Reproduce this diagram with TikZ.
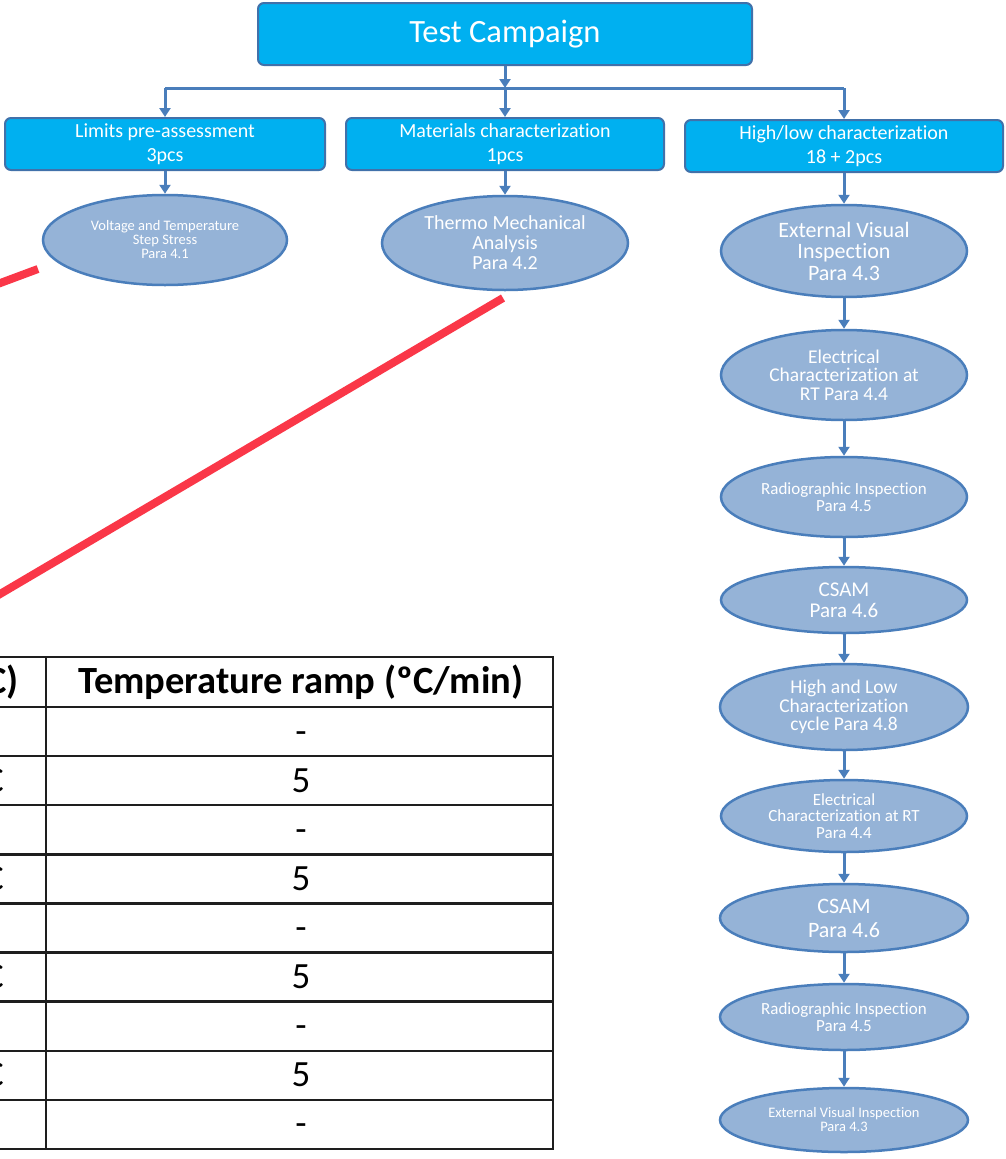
\documentclass[tikz,border=0pt]{standalone}
\usepackage{fontspec}
\setmainfont{Carlito}[Ligatures=NoCommon]
\usetikzlibrary{shapes.geometric,arrows.meta}
\definecolor{cyanbox}{RGB}{0,176,240}
\definecolor{boxline}{RGB}{65,113,170}
\definecolor{ellfill}{RGB}{149,179,215}
\definecolor{ellline}{RGB}{74,126,187}
\definecolor{arrowc}{RGB}{74,126,187}
\definecolor{redline}{RGB}{250,55,72}
\definecolor{tabline}{RGB}{30,30,30}
\tikzset{
 cbox/.style={draw=boxline, line width=2pt, fill=cyanbox, rounded corners=6pt, text=white, align=center, inner sep=0pt},
 oval/.style={ellipse, draw=ellline, line width=2.5pt, fill=ellfill, text=white, align=center, inner sep=0pt},
 flow/.style={draw=arrowc, line width=3pt, -{Triangle[width=11pt,length=9pt]}},
 flowline/.style={draw=arrowc, line width=3pt},
 redstroke/.style={draw=redline, line width=8pt},
 tab/.style={draw=tabline, line width=2.5pt},
 cell/.style={font=\fontsize{37}{44}\selectfont, text=black, inner sep=0pt, anchor=base},
 hcell/.style={font=\bfseries\fontsize{38.5}{44}\selectfont, text=black, inner sep=0pt, anchor=base},
}
\begin{document}
\begin{tikzpicture}[x=1pt,y=-1pt]
\useasboundingbox (0,0) rectangle (1005,1159);
\fill[white] (0,0) rectangle (1005,1159);

% top boxes
\node[cbox, minimum width=494pt, minimum height=62pt, font=\fontsize{32.5}{40}\selectfont] (tc) at (505,34) {Test Campaign};
\node[cbox, minimum width=320pt, minimum height=52pt, font=\fontsize{20}{24}\selectfont] (lim) at (165,144) {Limits pre-assessment\\3pcs};
\node[cbox, minimum width=318pt, minimum height=52pt, font=\fontsize{20}{24}\selectfont] (mat) at (505,144) {Materials characterization\\1pcs};
\node[cbox, minimum width=318pt, minimum height=52pt, font=\fontsize{20}{24}\selectfont] (hl) at (844,146) {High/low characterization\\18 + 2pcs};

\coordinate (bar) at (505,88);
\coordinate (barL) at (165,88);
\coordinate (barR) at (844,88);
\draw[flowline] (barL) -- (barR);
\draw[flow] (tc.south) -- (bar);
\draw[flow] (barL) -- (lim.north);
\draw[flow] (bar) -- (mat.north);
\draw[flow] (barR) -- (hl.north);

% ellipses
\node[oval, minimum width=244pt, minimum height=90pt, font=\fontsize{14.5}{14}\selectfont] (e1) at (165,240) {Voltage and Temperature\\Step Stress\\Para 4.1};
\node[oval, minimum width=246pt, minimum height=94pt, font=\fontsize{20}{20}\selectfont] (e2) at (505,243) {Thermo Mechanical\\Analysis\\Para 4.2};
\node[oval, minimum width=246pt, minimum height=92pt, font=\fontsize{22}{21.5}\selectfont] (e3) at (844,251) {External Visual\\Inspection\\Para 4.3};
\node[oval, minimum width=246pt, minimum height=90pt, font=\fontsize{19.5}{18.5}\selectfont] (e4) at (844,375) {Electrical\\Characterization at\\RT Para 4.4};
\node[oval, minimum width=246pt, minimum height=80pt, font=\fontsize{17}{16.5}\selectfont] (e5) at (844,497) {Radiographic Inspection\\Para 4.5};
\node[oval, minimum width=246pt, minimum height=66pt, font=\fontsize{21}{21}\selectfont] (e6) at (844,600) {CSAM\\Para 4.6};
\node[oval, minimum width=248pt, minimum height=86pt, font=\fontsize{19.5}{18.5}\selectfont] (e7) at (844,707) {High and Low\\Characterization\\cycle Para 4.8};
\node[oval, minimum width=246pt, minimum height=72pt, font=\fontsize{17}{16.5}\selectfont] (e8) at (844,816) {Electrical\\Characterization at RT\\Para 4.4};
\node[oval, minimum width=248pt, minimum height=68pt, font=\fontsize{22}{24}\selectfont] (e9) at (844,918) {CSAM\\Para 4.6};
\node[oval, minimum width=248pt, minimum height=66pt, font=\fontsize{17}{16.5}\selectfont] (e10) at (844,1017) {Radiographic Inspection\\Para 4.5};
\node[oval, minimum width=248pt, minimum height=64pt, font=\fontsize{14.5}{14}\selectfont] (e11) at (844,1120) {External Visual Inspection\\Para 4.3};

\draw[flow] (lim.south) -- (e1.north);
\draw[flow] (mat.south) -- (e2.north);
\draw[flow] (hl.south) -- (e3.north);
\draw[flow] (e3.south) -- (e4.north);
\draw[flow] (e4.south) -- (e5.north);
\draw[flow] (e5.south) -- (e6.north);
\draw[flow] (e6.south) -- (e7.north);
\draw[flow] (e7.south) -- (e8.north);
\draw[flow] (e8.south) -- (e9.north);
\draw[flow] (e9.south) -- (e10.north);
\draw[flow] (e10.south) -- (e11.north);

% table
\begin{scope}
\clip (0,0) rectangle (1005,1159);
\foreach \yy in {707,756.1,805.2,854.3,903.4,952.6,1001.7,1050.8,1099.9}
  \draw[tab] (-5,\yy) -- (553,\yy);
\draw[tab, line join=miter] (-5,657) rectangle (553,1149);
\draw[tab] (46,657) -- (46,1149);
\node[hcell] (h2) at (301,693) {Temperature ramp (ºC/min)};
\node[hcell, anchor=base east] (h1) at (19,693) {Temperature (ºC)};
\foreach \i/\t in {1/-,2/5,3/-,4/5,5/-,6/5,7/-,8/5,9/-}
  \node[cell] (r\i) at (301,{707+(\i-1)*49.1+36}) {\t};
\foreach \i in {2,4,6,8}
  \node[cell, anchor=base east] (l\i) at (4,{707+(\i-1)*49.1+36}) {ºC};
\end{scope}

% red annotation lines
\coordinate (ra1) at (-5,285);
\coordinate (rb1) at (38,269);
\coordinate (ra2) at (-5,597);
\coordinate (rb2) at (503,298);
\draw[redstroke] (ra1) -- (rb1);
\draw[redstroke] (ra2) -- (rb2);
\end{tikzpicture}
\end{document}
